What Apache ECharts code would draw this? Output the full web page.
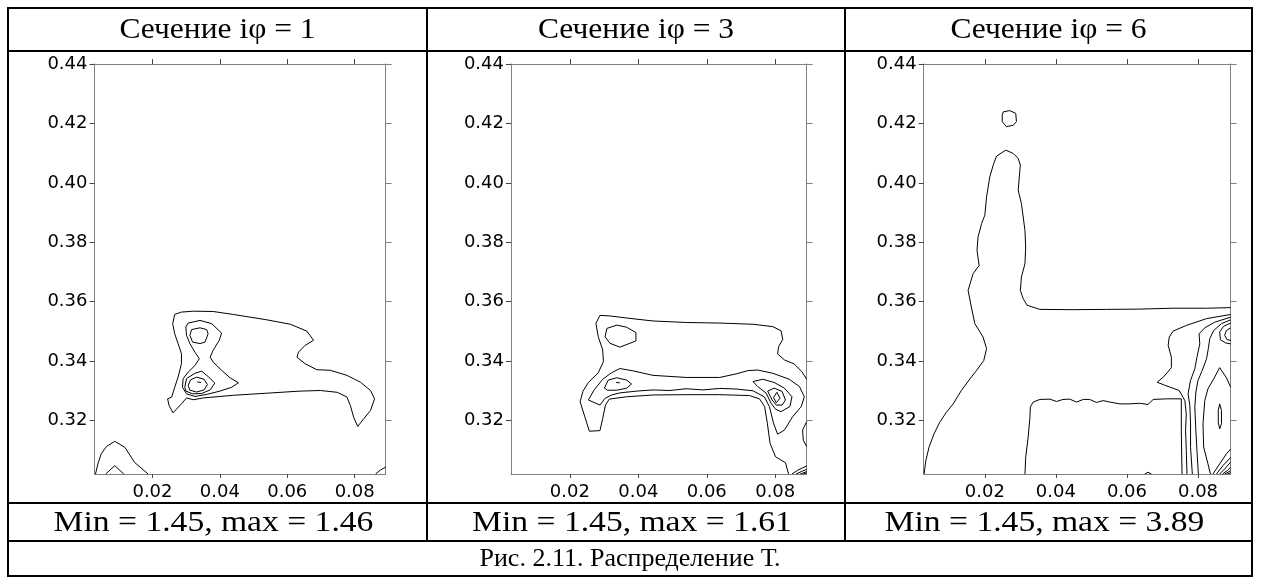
<!DOCTYPE html>
<html>
<head>
<meta charset="utf-8">
<script src="https://cdn.jsdelivr.net/npm/echarts@6/dist/echarts.min.js"></script>
<style>
html, body { margin: 0; padding: 0; background: #fff; }
#chart { width: 1261px; height: 582px; }
</style>
</head>
<body>
<div id="chart"></div>
<script>
// ---- Texts ----
const panelTitles = ['Сечение iφ = 1', 'Сечение iφ = 3', 'Сечение iφ = 6'];
const rangeLabels = ['Min = 1.45, max = 1.46', 'Min = 1.45, max = 1.61', 'Min = 1.45, max = 3.89'];
const caption = 'Рис. 2.11. Распределение Т.';

// ---- Axes ----
const xExtent = [0.0028, 0.0892];
const yExtent = [0.302, 0.44];
const xTicks = [0.02, 0.04, 0.06, 0.08];
const yTicks = [0.32, 0.34, 0.36, 0.38, 0.40, 0.42, 0.44];

// ---- Section 1 isolines [x, y] ----
const p1Outer = [[0.0266,0.3557],[0.0286,0.3565],[0.0321,0.3568],[0.0380,0.3567],[0.0440,0.3557],[0.0539,0.3539],[0.0609,0.3524],[0.0658,0.3501],[0.0678,0.3470],[0.0653,0.3453],[0.0633,0.3430],[0.0629,0.3413],[0.0653,0.3391],[0.0688,0.3371],[0.0728,0.3369],[0.0777,0.3352],[0.0817,0.3329],[0.0847,0.3301],[0.0859,0.3273],[0.0847,0.3234],[0.0827,0.3206],[0.0809,0.3180],[0.0797,0.3211],[0.0787,0.3251],[0.0777,0.3279],[0.0748,0.3295],[0.0698,0.3301],[0.0638,0.3299],[0.0539,0.3292],[0.0440,0.3285],[0.0351,0.3276],[0.0321,0.3270],[0.0301,0.3276],[0.0286,0.3256],[0.0261,0.3226],[0.0249,0.3251],[0.0245,0.3273],[0.0257,0.3279],[0.0266,0.3312],[0.0276,0.3346],[0.0286,0.3391],[0.0286,0.3425],[0.0276,0.3459],[0.0266,0.3492],[0.0260,0.3526],[0.0266,0.3557]];
const p1Waist = [[0.0306,0.3528],[0.0341,0.3537],[0.0376,0.3526],[0.0405,0.3494],[0.0398,0.3470],[0.0380,0.3436],[0.0371,0.3413],[0.0380,0.3397],[0.0405,0.3369],[0.0430,0.3344],[0.0455,0.3327],[0.0435,0.3312],[0.0400,0.3299],[0.0361,0.3288],[0.0326,0.3281],[0.0301,0.3290],[0.0289,0.3312],[0.0291,0.3341],[0.0306,0.3363],[0.0326,0.3385],[0.0339,0.3408],[0.0326,0.3430],[0.0311,0.3459],[0.0301,0.3487],[0.0299,0.3515],[0.0306,0.3528]];
const p1UpperCore = [[0.0316,0.3506],[0.0341,0.3512],[0.0361,0.3506],[0.0365,0.3492],[0.0356,0.3464],[0.0341,0.3459],[0.0319,0.3464],[0.0311,0.3487],[0.0316,0.3506]];
const p1LowerRing = [[0.0296,0.3312],[0.0301,0.3341],[0.0326,0.3359],[0.0346,0.3366],[0.0365,0.3348],[0.0385,0.3326],[0.0371,0.3303],[0.0346,0.3291],[0.0319,0.3290],[0.0299,0.3299],[0.0296,0.3312]];
const p1LowerCore = [[0.0306,0.3318],[0.0313,0.3337],[0.0331,0.3346],[0.0353,0.3339],[0.0363,0.3321],[0.0353,0.3303],[0.0331,0.3296],[0.0311,0.3302],[0.0306,0.3318]];
const p1Peak = [[0.0333,0.3330],[0.0344,0.3328]];
const p1CornerOuter = [[0.0031,0.3020],[0.0038,0.3054],[0.0048,0.3088],[0.0063,0.3112],[0.0088,0.3130],[0.0118,0.3110],[0.0147,0.3059],[0.0187,0.3020]];
const p1CornerInner = [[0.0061,0.3020],[0.0088,0.3048],[0.0115,0.3020]];
const p1CornerRight = [[0.0862,0.3020],[0.0877,0.3034],[0.0892,0.3043]];

// ---- Section 3 isolines ----
const p2Outer = [[0.0892,0.3339],[0.0878,0.3364],[0.0856,0.3390],[0.0827,0.3404],[0.0807,0.3424],[0.0810,0.3449],[0.0822,0.3473],[0.0817,0.3502],[0.0793,0.3516],[0.0735,0.3524],[0.0638,0.3528],[0.0540,0.3530],[0.0443,0.3535],[0.0366,0.3545],[0.0317,0.3552],[0.0288,0.3554],[0.0276,0.3527],[0.0283,0.3482],[0.0296,0.3437],[0.0298,0.3398],[0.0283,0.3361],[0.0254,0.3328],[0.0238,0.3298],[0.0230,0.3263],[0.0242,0.3219],[0.0257,0.3164],[0.0288,0.3166],[0.0296,0.3207],[0.0304,0.3252],[0.0315,0.3272],[0.0366,0.3280],[0.0443,0.3286],[0.0540,0.3287],[0.0638,0.3287],[0.0725,0.3284],[0.0754,0.3273],[0.0769,0.3247],[0.0777,0.3191],[0.0785,0.3123],[0.0801,0.3078],[0.0830,0.3058],[0.0839,0.3020]];
const p2Band = [[0.0254,0.3269],[0.0271,0.3303],[0.0296,0.3339],[0.0322,0.3361],[0.0346,0.3375],[0.0385,0.3367],[0.0443,0.3352],[0.0540,0.3345],[0.0638,0.3345],[0.0686,0.3357],[0.0720,0.3368],[0.0749,0.3370],[0.0793,0.3359],[0.0841,0.3339],[0.0871,0.3314],[0.0885,0.3280],[0.0876,0.3247],[0.0851,0.3213],[0.0827,0.3168],[0.0807,0.3154],[0.0795,0.3191],[0.0783,0.3247],[0.0768,0.3280],[0.0735,0.3300],[0.0686,0.3306],[0.0638,0.3308],[0.0589,0.3303],[0.0540,0.3307],[0.0492,0.3301],[0.0443,0.3303],[0.0395,0.3299],[0.0346,0.3293],[0.0322,0.3286],[0.0303,0.3275],[0.0288,0.3252],[0.0254,0.3269]];
const p2LeftUpper = [[0.0308,0.3510],[0.0337,0.3521],[0.0366,0.3514],[0.0393,0.3496],[0.0393,0.3468],[0.0371,0.3458],[0.0346,0.3447],[0.0317,0.3460],[0.0303,0.3482],[0.0308,0.3510]];
const p2LeftLower = [[0.0301,0.3309],[0.0312,0.3336],[0.0337,0.3344],[0.0366,0.3336],[0.0380,0.3323],[0.0366,0.3309],[0.0337,0.3302],[0.0310,0.3302],[0.0301,0.3309]];
const p2LeftPeak = [[0.0335,0.3328],[0.0346,0.3327]];
const p2RightRing = [[0.0735,0.3331],[0.0764,0.3339],[0.0797,0.3328],[0.0827,0.3309],[0.0849,0.3280],[0.0843,0.3247],[0.0817,0.3230],[0.0801,0.3238],[0.0788,0.3258],[0.0773,0.3293],[0.0749,0.3314],[0.0735,0.3331]];
const p2RightInner = [[0.0778,0.3299],[0.0797,0.3309],[0.0820,0.3298],[0.0830,0.3269],[0.0820,0.3252],[0.0803,0.3252],[0.0791,0.3269],[0.0778,0.3299]];
const p2RightPeak = [[0.0795,0.3278],[0.0805,0.3295],[0.0814,0.3275],[0.0803,0.3260],[0.0795,0.3278]];
const p2Edge = [[0.0892,0.3196],[0.0880,0.3168],[0.0882,0.3134],[0.0892,0.3112]];
const p2Corner1 = [[0.0849,0.3020],[0.0866,0.3033],[0.0892,0.3047]];
const p2Corner2 = [[0.0861,0.3020],[0.0876,0.3028],[0.0892,0.3036]];
const p2Corner3 = [[0.0873,0.3020],[0.0892,0.3028]];
const p2Corner4 = [[0.0882,0.3020],[0.0892,0.3024]];

// ---- Section 6 isolines ----
const p3Isle = [[0.0252,0.4239],[0.0270,0.4243],[0.0287,0.4234],[0.0289,0.4206],[0.0280,0.4194],[0.0261,0.4189],[0.0249,0.4206],[0.0249,0.4228],[0.0252,0.4239]];
const p3Outer = [[0.0029,0.3020],[0.0034,0.3065],[0.0043,0.3110],[0.0057,0.3155],[0.0073,0.3194],[0.0092,0.3228],[0.0111,0.3256],[0.0134,0.3301],[0.0158,0.3340],[0.0177,0.3369],[0.0197,0.3402],[0.0205,0.3442],[0.0195,0.3481],[0.0172,0.3526],[0.0162,0.3582],[0.0153,0.3638],[0.0167,0.3694],[0.0184,0.3722],[0.0178,0.3773],[0.0181,0.3818],[0.0191,0.3863],[0.0200,0.3891],[0.0205,0.3953],[0.0214,0.4020],[0.0225,0.4065],[0.0233,0.4090],[0.0259,0.4110],[0.0280,0.4099],[0.0294,0.4082],[0.0300,0.4060],[0.0297,0.4020],[0.0294,0.3975],[0.0303,0.3930],[0.0308,0.3885],[0.0313,0.3840],[0.0315,0.3784],[0.0313,0.3728],[0.0303,0.3683],[0.0300,0.3638],[0.0308,0.3610],[0.0319,0.3588],[0.0355,0.3574],[0.0448,0.3573],[0.0542,0.3574],[0.0636,0.3575],[0.0730,0.3578],[0.0824,0.3578],[0.0892,0.3580]];
const p3Shelf = [[0.0313,0.3020],[0.0315,0.3076],[0.0322,0.3144],[0.0327,0.3211],[0.0328,0.3245],[0.0336,0.3262],[0.0355,0.3271],[0.0383,0.3272],[0.0402,0.3264],[0.0420,0.3271],[0.0439,0.3272],[0.0458,0.3262],[0.0477,0.3271],[0.0495,0.3271],[0.0514,0.3261],[0.0533,0.3267],[0.0552,0.3262],[0.0580,0.3256],[0.0608,0.3256],[0.0636,0.3258],[0.0659,0.3254],[0.0674,0.3271],[0.0711,0.3273],[0.0753,0.3273],[0.0753,0.3166],[0.0755,0.3020]];
const p3Bump = [[0.0650,0.3020],[0.0659,0.3026],[0.0669,0.3020]];
const p3RightA = [[0.0892,0.3557],[0.0824,0.3543],[0.0767,0.3520],[0.0730,0.3501],[0.0719,0.3481],[0.0716,0.3453],[0.0725,0.3413],[0.0725,0.3378],[0.0704,0.3348],[0.0685,0.3329],[0.0706,0.3319],[0.0747,0.3301],[0.0763,0.3267],[0.0767,0.3222],[0.0765,0.3166],[0.0767,0.3099],[0.0769,0.3020]];
const p3RightB = [[0.0892,0.3548],[0.0847,0.3531],[0.0819,0.3512],[0.0803,0.3492],[0.0805,0.3458],[0.0797,0.3413],[0.0791,0.3374],[0.0779,0.3335],[0.0772,0.3290],[0.0777,0.3251],[0.0779,0.3189],[0.0779,0.3110],[0.0784,0.3020]];
const p3RightC = [[0.0892,0.3539],[0.0866,0.3526],[0.0844,0.3503],[0.0833,0.3475],[0.0829,0.3442],[0.0824,0.3408],[0.0812,0.3369],[0.0800,0.3335],[0.0794,0.3296],[0.0791,0.3245],[0.0794,0.3166],[0.0797,0.3099],[0.0801,0.3020]];
const p3RightD = [[0.0892,0.3528],[0.0872,0.3517],[0.0861,0.3498],[0.0863,0.3472],[0.0878,0.3461],[0.0892,0.3458]];
const p3RightD2 = [[0.0892,0.3512],[0.0880,0.3503],[0.0875,0.3487],[0.0882,0.3472],[0.0892,0.3470]];
const p3RightE = [[0.0892,0.3312],[0.0880,0.3344],[0.0861,0.3378],[0.0844,0.3340],[0.0828,0.3307],[0.0819,0.3267],[0.0814,0.3189],[0.0816,0.3110],[0.0828,0.3054],[0.0835,0.3020]];
const p3RightF = [[0.0861,0.3256],[0.0866,0.3234],[0.0866,0.3189],[0.0861,0.3172],[0.0857,0.3194],[0.0857,0.3234],[0.0861,0.3256]];
const p3Fan1 = [[0.0842,0.3020],[0.0861,0.3054],[0.0880,0.3088],[0.0892,0.3104]];
const p3Fan2 = [[0.0852,0.3020],[0.0870,0.3048],[0.0892,0.3076]];
const p3Fan3 = [[0.0861,0.3020],[0.0875,0.3037],[0.0892,0.3060]];
const p3Fan4 = [[0.0869,0.3020],[0.0882,0.3031],[0.0892,0.3043]];
const p3Fan5 = [[0.0875,0.3020],[0.0892,0.3031]];
const p3Fan6 = [[0.0882,0.3020],[0.0892,0.3024]];

const panels = [
  [p1Outer, p1Waist, p1UpperCore, p1LowerRing, p1LowerCore, p1Peak, p1CornerOuter, p1CornerInner, p1CornerRight],
  [p2Outer, p2Band, p2LeftUpper, p2LeftLower, p2LeftPeak, p2RightRing, p2RightInner, p2RightPeak, p2Edge, p2Corner1, p2Corner2, p2Corner3, p2Corner4],
  [p3Isle, p3Outer, p3Shelf, p3Bump, p3RightA, p3RightB, p3RightC, p3RightD, p3RightD2, p3RightE, p3RightF, p3Fan1, p3Fan2, p3Fan3, p3Fan4, p3Fan5, p3Fan6]
];

// ---- Layout ----
const grids = [
  { left: 94.5, top: 64, width: 291.2, height: 410 },
  { left: 511, top: 64, width: 295.7, height: 410 },
  { left: 923.7, top: 64, width: 307, height: 410 }
];
const colEdges = [8, 427, 845, 1252];
const rowEdges = [8, 51, 503, 541, 576];
const frameColor = '#808080';
const tickColor = '#444';
const axisFont = 'DejaVu Sans';
const serif = '"Liberation Serif", "Times New Roman", serif';

const xAxis = [], yAxis = [], series = [];
panels.forEach((lines, i) => {
  const common = { gridIndex: i, type: 'value', splitLine: { show: false } };
  xAxis.push(Object.assign({}, common, {
    position: 'bottom', min: xExtent[0], max: xExtent[1],
    axisLine: { show: true, onZero: false, lineStyle: { color: frameColor, width: 1 } },
    axisTick: { show: true, inside: false, length: 4, customValues: xTicks, lineStyle: { color: tickColor } },
    axisLabel: { show: true, customValues: xTicks, margin: 9, color: '#000', fontFamily: axisFont, fontSize: 18,
                 formatter: v => v.toFixed(2) }
  }));
  xAxis.push(Object.assign({}, common, {
    position: 'top', min: xExtent[0], max: xExtent[1],
    axisLine: { show: true, onZero: false, lineStyle: { color: frameColor, width: 1 } },
    axisTick: { show: true, inside: false, length: 5, customValues: xTicks, lineStyle: { color: tickColor } },
    axisLabel: { show: false }
  }));
  yAxis.push(Object.assign({}, common, {
    position: 'left', min: yExtent[0], max: yExtent[1],
    axisLine: { show: true, onZero: false, lineStyle: { color: frameColor, width: 1 } },
    axisTick: { show: true, inside: false, length: 5, customValues: yTicks, lineStyle: { color: tickColor } },
    axisLabel: { show: true, customValues: yTicks, margin: 7, color: '#000', fontFamily: axisFont, fontSize: 18,
                 formatter: v => v.toFixed(2) }
  }));
  yAxis.push(Object.assign({}, common, {
    position: 'right', min: yExtent[0], max: yExtent[1],
    axisLine: { show: true, onZero: false, lineStyle: { color: frameColor, width: 1 } },
    axisTick: { show: true, inside: false, length: 6, customValues: yTicks, lineStyle: { color: frameColor } },
    axisLabel: { show: false }
  }));
  lines.forEach(data => {
    series.push({
      type: 'line', xAxisIndex: 2 * i, yAxisIndex: 2 * i, data: data,
      symbol: 'none', showSymbol: false, silent: true, clip: true,
      lineStyle: { color: '#000', width: 1 }
    });
  });
});

// ---- Table frame and cell texts ----
const graphic = [];
const lineEl = (x1, y1, x2, y2) => ({
  type: 'line', silent: true, z: 100,
  shape: { x1, y1, x2, y2 },
  style: { stroke: '#000', lineWidth: 2 }
});
rowEdges.forEach(y => graphic.push(lineEl(colEdges[0] - 1, y, colEdges[3] + 1, y)));
graphic.push(lineEl(colEdges[0], rowEdges[0], colEdges[0], rowEdges[4]));
graphic.push(lineEl(colEdges[3], rowEdges[0], colEdges[3], rowEdges[4]));
graphic.push(lineEl(colEdges[1], rowEdges[0], colEdges[1], rowEdges[3]));
graphic.push(lineEl(colEdges[2], rowEdges[0], colEdges[2], rowEdges[3]));

const cellText = (text, cx, cy, size, sx) => ({
  type: 'text', silent: true, z: 100, x: cx, y: cy, scaleX: sx,
  style: { text, x: 0, y: 0, align: 'center', verticalAlign: 'middle',
           font: size + 'px ' + serif, fill: '#000' }
});
for (let i = 0; i < 3; i++) {
  const cx = (colEdges[i] + colEdges[i + 1]) / 2;
  graphic.push(cellText(panelTitles[i], cx, (rowEdges[0] + rowEdges[1]) / 2 + 1, 30, 1.05));
  graphic.push(cellText(rangeLabels[i], cx - 4, (rowEdges[2] + rowEdges[3]) / 2 + 1, 30, 1.12));
}
graphic.push(cellText(caption, (colEdges[0] + colEdges[3]) / 2, (rowEdges[3] + rowEdges[4]) / 2 + 1, 26, 1.0));

const chart = echarts.init(document.getElementById('chart'));
chart.setOption({
  backgroundColor: '#fff',
  animation: false,
  grid: grids,
  xAxis, yAxis, series, graphic
});
</script>
</body>
</html>
